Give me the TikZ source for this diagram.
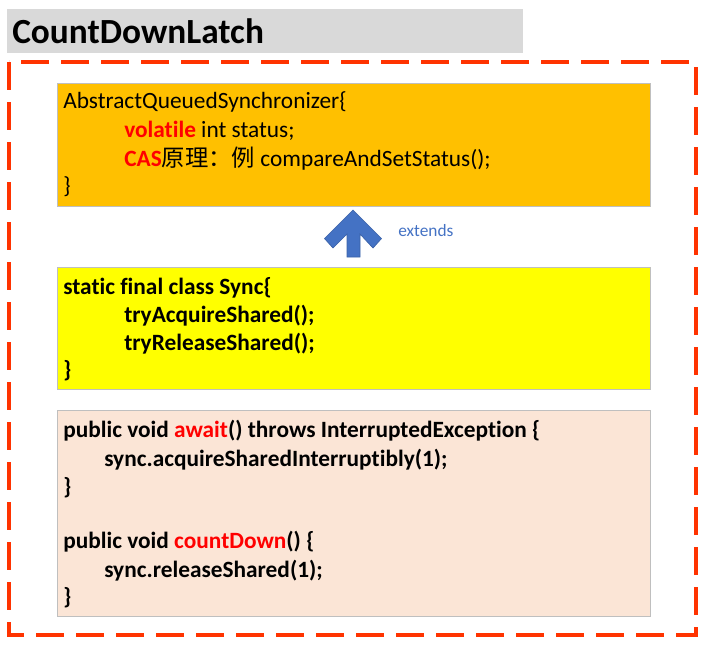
\documentclass[tikz,border=0pt]{standalone}
\usepackage{fontspec}
\setmainfont[Ligatures=CommonOff]{Carlito}
\newfontfamily\cjkfont{Noto Sans CJK SC}
\definecolor{dashred}{HTML}{FF3300}
\definecolor{titlegray}{HTML}{D9D9D9}
\definecolor{orangebox}{HTML}{FFC000}
\definecolor{yellowbox}{HTML}{FFFF00}
\definecolor{peachbox}{HTML}{FBE5D6}
\definecolor{boxborder}{HTML}{BFBFBF}
\definecolor{arrowblue}{HTML}{4472C4}
\definecolor{kwred}{HTML}{FF0000}
\tikzset{
  codebox/.style={draw=boxborder, line width=0.8pt, anchor=north west, inner sep=0pt, minimum width=444.75pt},
  codeline/.style={anchor=base west, inner sep=0pt, font=\fontsize{17.5}{21}\selectfont},
  boldline/.style={codeline, font=\bfseries\fontsize{17.5}{21}\selectfont},
}
\newcommand{\red}[1]{\textcolor{kwred}{#1}}
\begin{document}
\begin{tikzpicture}[x=0.75pt,y=-0.75pt]
\useasboundingbox (0,0) rectangle (709,647);
% title
\node[fill=titlegray, anchor=north west, inner sep=0pt, minimum width=387pt, minimum height=33pt] (title) at (7,9) {};
\node[anchor=west, inner sep=0pt, font=\bfseries\fontsize{26.5}{30}\selectfont] (titletext) at (12,31.5) {CountDownLatch};
% dashed frame
\draw[dashred, line width=3pt, dash pattern=on 21pt off 9pt, dash phase=0pt] (9,62) rectangle (696,635);
% orange box
\node[codebox, fill=orangebox, minimum height=92.25pt] (aqs) at (57,83) {};
\node[codeline] (aqs1) at (63,108.5) {AbstractQueuedSynchronizer\{};
\node[codeline] (aqs2) at (124,137.5) {\textbf{\red{volatile}} int status;};
\node[codeline] (aqs3) at (124,166.5) {\textbf{\red{CAS}}{\cjkfont 原理：例} compareAndSetStatus();};
\node[codeline] (aqs4) at (63,193.5) {\}};
% arrow
\filldraw[fill=arrowblue, draw=arrowblue!85!black, line width=0.5pt]
  (353,210) -- (324.5,238.5) -- (333,248) -- (347,234) -- (347,257) -- (360,257) -- (360,234) -- (373,248) -- (381.5,238.5) -- cycle;
\node[anchor=west, inner sep=0pt, text=arrowblue, font=\fontsize{13}{15}\selectfont] (ext) at (398,231) {extends};
% yellow box
\node[codebox, fill=yellowbox, minimum height=91.5pt] (sync) at (57,267) {};
\node[boldline] (s1) at (63,294) {static final class Sync\{};
\node[boldline] (s2) at (124,322) {tryAcquireShared();};
\node[boldline] (s3) at (124,350) {tryReleaseShared();};
\node[boldline] (s4) at (63,377) {\}};
% peach box
\node[codebox, fill=peachbox, minimum height=154.5pt] (cdl) at (57,410) {};
\node[boldline] (c1) at (63,437) {public void \red{await}() throws InterruptedException \{};
\node[boldline] (c2) at (104,466) {sync.acquireSharedInterruptibly(1);};
\node[boldline] (c3) at (63,494) {\}};
\node[boldline] (c4) at (63,548) {public void \red{countDown}() \{};
\node[boldline] (c5) at (104,577) {sync.releaseShared(1);};
\node[boldline] (c6) at (63,604) {\}};
\end{tikzpicture}
\end{document}
